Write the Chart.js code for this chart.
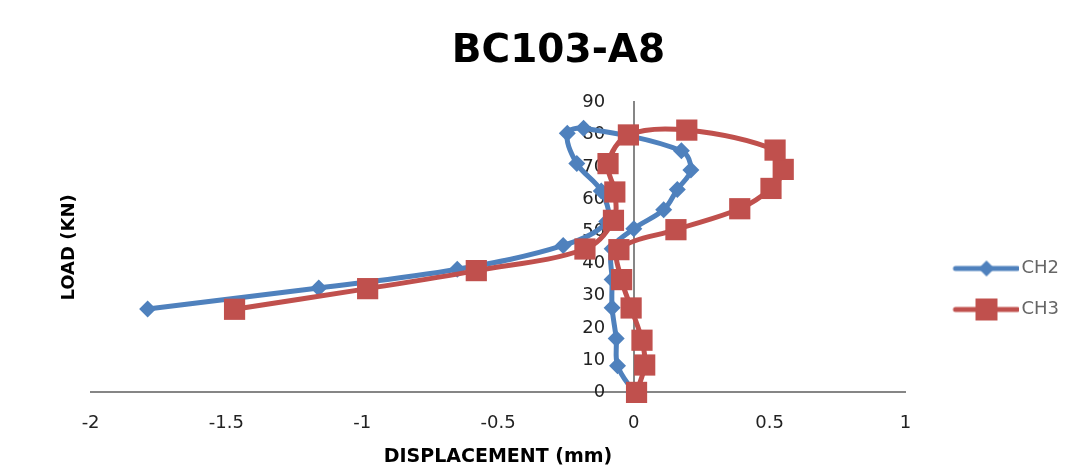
<!DOCTYPE html>
<html>
<head>
<meta charset="utf-8">
<script src="https://cdn.jsdelivr.net/npm/chart.js@4/dist/chart.umd.min.js"></script>
<style>
  html, body { margin: 0; background: #fff; }
  #contenedor { width: 1092px; height: 472px; }
</style>
</head>
<body>
<div id="contenedor"><canvas id="grafica_bc103"></canvas></div>
<script>
//Datos (desplazamiento en mm, carga en KN)
const ch2Desp  = [0, -0.06, -0.065, -0.08, -0.08, -0.08, 0, 0.11, 0.16, 0.21, 0.175, -0.185, -0.245, -0.21, -0.12, -0.10, -0.26, -0.65, -1.16, -1.79];
const ch2Carga = [0, 8.3, 16.7, 26.3, 35, 44.6, 50.8, 56.7, 63, 69, 75, 82, 80.4, 71, 62.5, 53, 45.6, 38.2, 32.4, 25.9];

const ch3Desp  = [0.01, 0.04, 0.03, -0.01, -0.045, -0.055, 0.155, 0.39, 0.505, 0.55, 0.52, 0.195, -0.02, -0.095, -0.07, -0.075, -0.18, -0.58, -0.98, -1.47];
const ch3Carga = [0, 8.5, 16.2, 26.2, 35, 44.3, 50.5, 57, 63.3, 69.2, 75.2, 81.4, 79.9, 71, 62.2, 53.4, 44.5, 37.8, 32.2, 25.8];

const nombresSeries = ['CH2', 'CH3'];
const limitesX = [-2, 1];
const limitesY = [0, 90];

const azul = '#4F81BD';
const rojo = '#C0504D';
const gris = '#868686';
const fuente = 'DejaVu Sans';

//Une x e y en puntos para el scatter
function puntos(xs, ys) {
  return xs.map((x, i) => ({x: x, y: ys[i]}));
}

//Icono de leyenda: linea con marcador (como en excel)
const ANCHO_ICONO = 98;
function iconoLeyenda(color, estilo) {
  const c = document.createElement('canvas');
  c.width = ANCHO_ICONO;
  c.height = 26;
  const g = c.getContext('2d');
  const ini = ANCHO_ICONO - 66;
  g.strokeStyle = color;
  g.fillStyle = color;
  g.lineWidth = 5;
  g.lineCap = 'round';
  g.beginPath();
  g.moveTo(ini + 2, 13);
  g.lineTo(ANCHO_ICONO - 2, 13);
  g.stroke();
  const cx = ini + 33;
  g.beginPath();
  if (estilo === 'rect') {
    g.rect(cx - 11, 2, 22, 22);
  } else {
    g.moveTo(cx, 5); g.lineTo(cx + 8, 13); g.lineTo(cx, 21); g.lineTo(cx - 8, 13);
    g.closePath();
  }
  g.fill();
  return c;
}

const grafica_bc103 = document.getElementById('grafica_bc103');

const data_bc103 = {
  datasets: [{
    label: nombresSeries[0],
    data: puntos(ch2Desp, ch2Carga),
    borderColor: azul,
    backgroundColor: azul,
    borderWidth: 5,
    pointStyle: 'rectRot',
    pointRadius: 8.5,
    pointBorderWidth: 0,
    showLine: true,
    tension: 0.35,
    clip: false,
    order: 1
  }, {
    label: nombresSeries[1],
    data: puntos(ch3Desp, ch3Carga),
    borderColor: rojo,
    backgroundColor: rojo,
    borderWidth: 5,
    pointStyle: 'rect',
    pointRadius: 15,
    pointBorderWidth: 0,
    showLine: true,
    tension: 0.35,
    clip: false,
    order: 0
  }]
};

const iconos = [iconoLeyenda(azul, 'rectRot'), iconoLeyenda(rojo, 'rect')];

new Chart(grafica_bc103, {
  type: 'scatter',
  data: data_bc103,
  options: {
    responsive: true,
    maintainAspectRatio: false,
    animation: false,
    layout: { padding: { left: 48, right: 23, top: 0, bottom: 2 } },
    plugins: {
      title: {
        display: true,
        text: 'BC103-A8',
        color: '#000',
        font: { family: fuente, size: 39, weight: 'bold' },
        padding: { top: 28.6, bottom: 27 }
      },
      legend: {
        position: 'right',
        title: { display: true, text: '', font: { size: 10 }, padding: { top: 96, bottom: 0 } },
        labels: {
          usePointStyle: true,
          pointStyleWidth: ANCHO_ICONO - 14,
          padding: 23,
          color: '#333',
          font: { family: fuente, size: 18 },
          generateLabels: (chart) => chart.data.datasets.map((ds, i) => ({
            text: ds.label,
            pointStyle: iconos[i],
            fillStyle: ds.backgroundColor,
            strokeStyle: ds.borderColor,
            lineWidth: 0,
            datasetIndex: i
          }))
        }
      },
      tooltip: { enabled: false }
    },
    scales: {
      x: {
        type: 'linear',
        position: 'bottom',
        min: limitesX[0],
        max: limitesX[1],
        grid: { display: false, drawTicks: false },
        border: { display: true, color: gris, width: 2 },
        ticks: {
          stepSize: 0.5,
          padding: 28.7,
          color: '#222',
          font: { family: fuente, size: 18, lineHeight: 0.3 },
          callback: (v) => String(Number(v))
        },
        title: {
          display: true,
          text: 'DISPLACEMENT (mm)',
          color: '#000',
          font: { family: fuente, size: 19, weight: 'bold' },
          padding: { top: -10, bottom: 2 }
        }
      },
      y: {
        type: 'linear',
        position: { x: 0 },
        min: limitesY[0],
        max: limitesY[1],
        grid: { display: false, drawTicks: false },
        border: { display: true, color: gris, width: 2 },
        ticks: {
          stepSize: 10,
          color: '#222',
          font: { family: fuente, size: 18 },
          //espacios para separar las etiquetas del eje en x=0
          callback: (v) => v + '     '
        }
      },
      //eje solo para el titulo vertical, a la izquierda
      yTitulo: {
        type: 'linear',
        position: 'left',
        grid: { display: false, drawTicks: false },
        border: { display: false },
        ticks: { display: false },
        title: {
          display: true,
          text: 'LOAD (KN)',
          color: '#000',
          font: { family: fuente, size: 18, weight: 'bold' },
          padding: { top: 11, bottom: 10 }
        }
      }
    }
  }
});
</script>
</body>
</html>
